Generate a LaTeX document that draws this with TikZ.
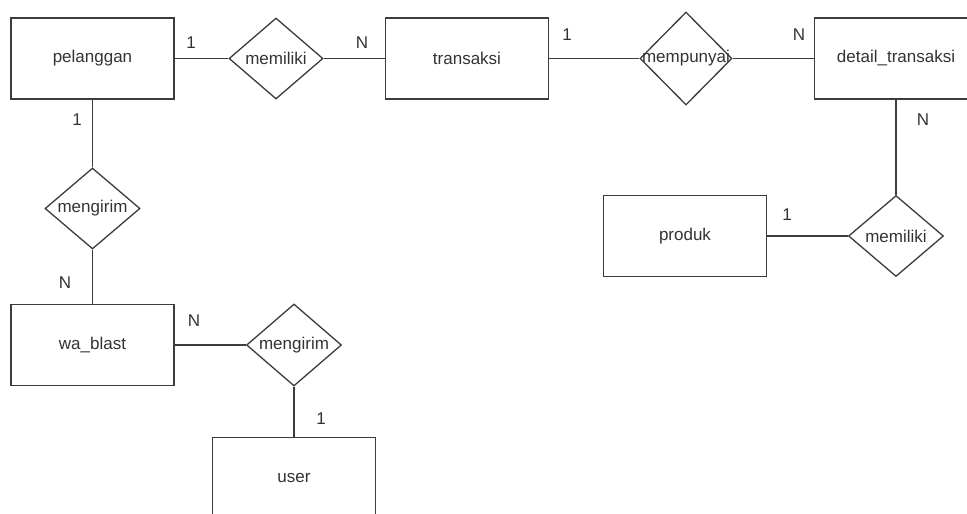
\documentclass[tikz,border=0pt]{standalone}
\usepackage{fontspec}
\setmainfont{Liberation Sans}
\usetikzlibrary{shapes.geometric}
\definecolor{linegray}{HTML}{3C3C3C}
\definecolor{textgray}{HTML}{333333}
\begin{document}
\begin{tikzpicture}[x=1pt,y=-1pt,
  every node/.style={font=\fontsize{17}{20}\selectfont, text=textgray},
  entity/.style={draw=linegray, line width=1.3pt, rectangle, fill=white,
    minimum width=163pt, minimum height=81pt, inner sep=0pt},
  relation/.style={draw=linegray, line width=1.3pt, diamond, fill=white,
    inner sep=0pt, minimum width=95pt, minimum height=81pt},
  card/.style={inner sep=0pt},
  link/.style={draw=linegray, line width=1.3pt}
]
\useasboundingbox[fill=white] (0,0) rectangle (967,514);
\clip (0,0) rectangle (967,514);

% entities
\node[entity] (pelanggan) at (92.5,58.5) {pelanggan};
\node[entity] (transaksi) at (467,58.5) {transaksi};
\node[entity] (detail) at (896,58.5) {detail\_transaksi};
\node[entity] (produk) at (685,236) {produk};
\node[entity] (wablast) at (92.5,345) {wa\_blast};
\node[entity] (user) at (294,478) {user};

% relationships
\node[relation, minimum width=94pt, label={center:memiliki}] (memiliki) at (276,58.5) {};
\node[relation, minimum width=92pt, minimum height=93pt, label={center:mempunyai}] (mempunyai) at (686,58.5) {};
\node[relation, label={center:memiliki}] (memiliki2) at (896,236) {};
\node[relation, label={center:mengirim}] (mengirim) at (92.5,208.5) {};
\node[relation, minimum height=82pt, label={center:mengirim}] (mengirim2) at (294,345) {};

% connectors
\path[link] (pelanggan.east) -- (memiliki.west);
\path[link] (memiliki.east) -- (transaksi.west);
\path[link] (transaksi.east) -- (mempunyai.west);
\path[link] (mempunyai.east) -- (detail.west);
\path[link] (pelanggan.south) -- (mengirim.north);
\path[link] (mengirim.south) -- (wablast.north);
\path[link] (wablast.east) -- (mengirim2.west);
\path[link] (mengirim2.south) -- (user.north);
\path[link] (detail.south) -- (memiliki2.north);
\path[link] (memiliki2.west) -- (produk.east);

% cardinalities
\node[card] (c1) at (191,43) {1};
\node[card] (c2) at (362,43) {N};
\node[card] (c3) at (567,35) {1};
\node[card] (c4) at (799,35) {N};
\node[card] (c5) at (77,120) {1};
\node[card] (c6) at (65,283) {N};
\node[card] (c7) at (194,321) {N};
\node[card] (c8) at (321,419) {1};
\node[card] (c9) at (923,120) {N};
\node[card] (c10) at (787,215) {1};
\end{tikzpicture}
\end{document}
